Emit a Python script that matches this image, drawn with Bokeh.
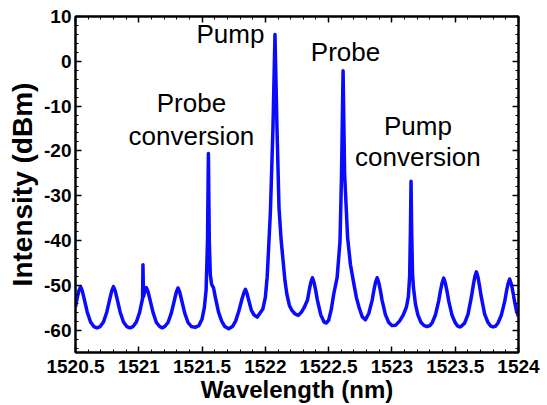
from bokeh.plotting import figure
from bokeh.models import Range1d, SingleIntervalTicker, LinearAxis, Label
from bokeh.embed import file_html
from bokeh.resources import INLINE

# ---- data ----
wavelength_nm = [
    1520.500, 1520.514, 1520.527, 1520.540, 1520.553, 1520.566, 1520.593, 1520.619, 1520.645, 1520.670,
    1520.695, 1520.721, 1520.747, 1520.774, 1520.787, 1520.800, 1520.813, 1520.826, 1520.853, 1520.879,
    1520.905, 1520.930, 1520.955, 1520.981, 1521.007, 1521.022, 1521.030, 1521.033, 1521.037, 1521.047,
    1521.060, 1521.073, 1521.086, 1521.113, 1521.139, 1521.165, 1521.185, 1521.205, 1521.231, 1521.257,
    1521.284, 1521.297, 1521.310, 1521.323, 1521.336, 1521.363, 1521.389, 1521.415, 1521.445, 1521.475,
    1521.500, 1521.518, 1521.532, 1521.543, 1521.550, 1521.557, 1521.565, 1521.575, 1521.590, 1521.605,
    1521.630, 1521.655, 1521.680, 1521.710, 1521.740, 1521.765, 1521.790, 1521.817, 1521.830, 1521.843,
    1521.856, 1521.870, 1521.890, 1521.910, 1521.935, 1521.953, 1521.980, 1522.000, 1522.014, 1522.022,
    1522.040, 1522.060, 1522.076, 1522.092, 1522.108, 1522.125, 1522.140, 1522.155, 1522.170, 1522.190,
    1522.210, 1522.235, 1522.260, 1522.285, 1522.306, 1522.333, 1522.346, 1522.359, 1522.372, 1522.385,
    1522.398, 1522.411, 1522.438, 1522.464, 1522.480, 1522.500, 1522.520, 1522.540, 1522.567, 1522.590,
    1522.602, 1522.614, 1522.626, 1522.650, 1522.672, 1522.700, 1522.720, 1522.740, 1522.765, 1522.790,
    1522.817, 1522.844, 1522.857, 1522.870, 1522.883, 1522.896, 1522.909, 1522.922, 1522.949, 1522.975,
    1523.000, 1523.030, 1523.060, 1523.090, 1523.115, 1523.130, 1523.140, 1523.146, 1523.151, 1523.156,
    1523.163, 1523.170, 1523.186, 1523.205, 1523.230, 1523.255, 1523.278, 1523.300, 1523.317, 1523.343,
    1523.370, 1523.383, 1523.396, 1523.409, 1523.422, 1523.435, 1523.448, 1523.475, 1523.501, 1523.520,
    1523.536, 1523.550, 1523.575, 1523.601, 1523.628, 1523.641, 1523.654, 1523.667, 1523.680, 1523.693,
    1523.706, 1523.733, 1523.759, 1523.780, 1523.800, 1523.820, 1523.838, 1523.864, 1523.891, 1523.904,
    1523.917, 1523.930, 1523.943, 1523.956, 1523.969, 1523.985, 1524.000,
]
intensity_dbm = [
    -54.8, -52.7, -51.2, -50.3, -51.2, -52.7, -56.0, -58.2, -59.2, -59.5,
    -59.2, -58.2, -56.0, -52.7, -51.2, -50.3, -51.2, -52.7, -56.0, -58.2,
    -59.2, -59.5, -59.2, -58.2, -56.0, -54.0, -52.9, -45.4, -52.5, -51.5,
    -50.5, -51.4, -52.9, -56.1, -58.3, -59.2, -59.5, -59.2, -58.3, -56.2,
    -53.0, -51.5, -50.6, -51.5, -53.0, -56.2, -58.3, -59.2, -59.4, -59.0,
    -57.5, -55.0, -51.0, -40.0, -20.6, -40.0, -47.5, -49.8, -50.5, -52.7,
    -56.0, -58.0, -59.2, -59.7, -59.2, -58.0, -55.8, -52.9, -51.7, -50.9,
    -51.9, -53.5, -55.6, -56.6, -57.1, -56.4, -55.3, -52.7, -48.3, -43.9,
    -33.5, -15.0, 6.0, -15.0, -32.8, -40.0, -44.5, -49.0, -52.0, -54.5,
    -55.6, -56.4, -56.7, -56.0, -55.0, -53.3, -51.2, -49.4, -48.3, -49.4,
    -51.2, -53.3, -56.6, -58.2, -58.4, -57.8, -55.5, -52.0, -48.3, -40.1,
    -25.0, -2.1, -25.0, -39.4, -45.3, -49.8, -52.8, -54.9, -57.0, -57.7,
    -56.3, -53.3, -51.2, -49.4, -48.3, -49.4, -51.2, -53.3, -56.6, -58.3,
    -59.0, -58.9, -58.0, -56.6, -54.8, -52.5, -48.0, -38.0, -26.8, -38.0,
    -47.5, -50.5, -54.2, -56.6, -58.3, -59.0, -59.2, -59.0, -58.4, -56.7,
    -53.4, -51.3, -49.5, -48.4, -49.5, -51.3, -53.4, -56.7, -58.4, -59.1,
    -59.3, -59.1, -58.4, -56.5, -52.6, -50.3, -48.2, -47.0, -48.2, -50.3,
    -52.6, -56.5, -58.3, -59.1, -59.3, -59.1, -58.4, -56.7, -53.6, -51.5,
    -49.7, -48.6, -49.7, -51.5, -53.6, -55.8, -57.0,
]

x_ticks = [1520.5, 1521.0, 1521.5, 1522.0, 1522.5, 1523.0, 1523.5, 1524.0]
x_tick_labels = ["1520.5", "1521", "1521.5", "1522", "1522.5", "1523", "1523.5", "1524"]
y_ticks = [-60, -50, -40, -30, -20, -10, 0, 10]
y_tick_labels = ["-60", "-50", "-40", "-30", "-20", "-10", "0", "10"]

annotation_texts = ["Pump", "Probe", "conversion", "Probe", "Pump", "conversion"]
annotation_x = [1521.724, 1521.416, 1521.416, 1522.633, 1523.205, 1523.205]
annotation_y = [6.2, -9.2, -16.6, 2.0, -14.5, -21.4]

FONT = "Liberation Sans"

p = figure(width=547, height=405, output_backend="svg", toolbar_location=None,
           x_range=Range1d(1520.5, 1524.0), y_range=Range1d(-65, 10),
           min_border_left=75, min_border_right=29, min_border_top=16,
           min_border_bottom=50)
p.background_fill_color = "white"
p.border_fill_color = "white"
p.grid.visible = False
p.outline_line_color = "black"
p.outline_line_width = 2

p.line(wavelength_nm, intensity_dbm, line_color="#0a0aff", line_width=3.5,
       line_join="round")

p.xaxis.ticker = SingleIntervalTicker(interval=0.5, num_minor_ticks=5)
p.yaxis.ticker = SingleIntervalTicker(interval=10, num_minor_ticks=5)
p.xaxis.major_label_overrides = {t: l for t, l in zip(x_ticks, x_tick_labels)}
p.yaxis.major_label_overrides = {t: l for t, l in zip(y_ticks, y_tick_labels)}

for ax in (p.xaxis[0], p.yaxis[0]):
    ax.axis_line_width = 2
    ax.axis_line_color = "black"
    ax.major_tick_in = 6
    ax.major_tick_out = 0
    ax.minor_tick_in = 3
    ax.minor_tick_out = 0
    ax.major_tick_line_width = 1.5
    ax.minor_tick_line_width = 1
    ax.major_label_text_font = FONT
    ax.major_label_text_font_style = "bold"
    ax.major_label_text_font_size = "19px"
    ax.major_label_text_color = "black"
    ax.axis_label_text_font = FONT
    ax.axis_label_text_font_style = "bold"
    ax.axis_label_text_color = "black"

p.xaxis.axis_label = "Wavelength (nm)"
p.yaxis.axis_label = "Intensity (dBm)"
p.xaxis.axis_label_text_font_size = "24px"
p.yaxis.axis_label_text_font_size = "28px"
p.xaxis.major_label_standoff = 7
p.yaxis.major_label_standoff = 4
p.xaxis.axis_label_standoff = 0
p.yaxis.axis_label_standoff = 3

for loc in ("right", "above"):
    if loc == "right":
        t = SingleIntervalTicker(interval=10, num_minor_ticks=5)
    else:
        t = SingleIntervalTicker(interval=0.5, num_minor_ticks=5)
    ax = LinearAxis(ticker=t, major_label_text_font_size="1px",
                    major_label_text_alpha=0, major_label_standoff=0,
                    axis_line_width=2, major_tick_in=6, major_tick_out=0,
                    minor_tick_in=3, minor_tick_out=0,
                    major_tick_line_width=1.5, minor_tick_line_width=1)
    p.add_layout(ax, loc)

for txt, xx, yy in zip(annotation_texts, annotation_x, annotation_y):
    p.add_layout(Label(x=xx, y=yy, text=txt, text_align="center",
                       text_baseline="alphabetic", text_font=FONT,
                       text_font_size="26px", text_color="black"))

open("out.html", "w").write(file_html(p, INLINE))
